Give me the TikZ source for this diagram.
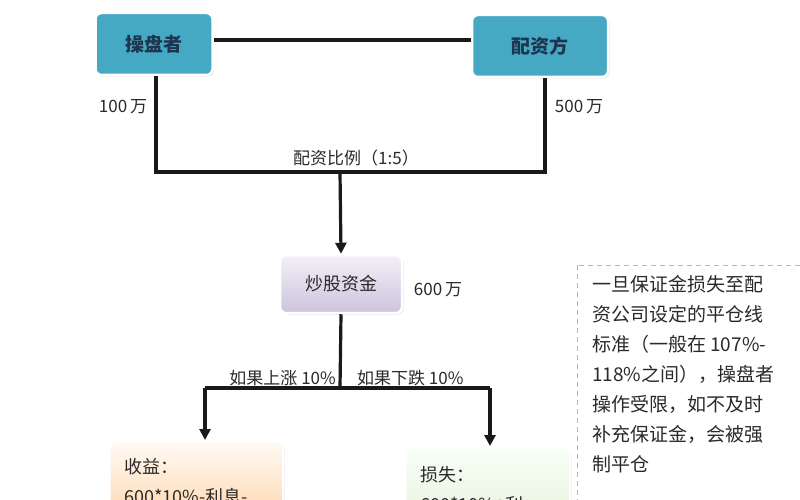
\documentclass[tikz,border=0pt]{standalone}
\usepackage{fontspec}
\setmainfont{Liberation Sans}
\newfontfamily\cjk{Noto Sans CJK SC}
\usetikzlibrary{arrows.meta,shadows,positioning}
\definecolor{teal1}{HTML}{45A9C4}
\definecolor{navy1}{HTML}{1E3550}
\definecolor{txt}{HTML}{2A2A2A}
\definecolor{dashc}{HTML}{B8BC8A}
\definecolor{lavtop}{HTML}{F4F0F8}
\definecolor{lavbot}{HTML}{CDC3DD}
\tikzset{
  card/.style={rounded corners=6pt, draw=white, line width=2.5pt,
    drop shadow={shadow xshift=1.5pt, shadow yshift=-1.5pt, opacity=0.25, fill=gray}},
  tealbox/.style={card, fill=teal1, text=navy1, font=\cjk\fontsize{19}{22}\selectfont\bfseries},
  conn/.style={line width=3.2pt, draw=black!90},
  arr/.style={conn, -{Triangle[length=11pt,width=11pt]}},
  lbl/.style={text=txt, font=\cjk\fontsize{17}{20}\selectfont, inner sep=0pt},
  note/.style={text=txt, font=\cjk\fontsize{19}{30}\selectfont, inner sep=0pt, anchor=north west, align=left},
}
\begin{document}
\begin{tikzpicture}[x=1pt,y=-1pt]
\useasboundingbox (0,0) rectangle (800,500);
\clip (0,0) rectangle (800,500);
\fill[white] (0,0) rectangle (800,500);

% top boxes
\node[tealbox, minimum width=117pt, minimum height=62pt] (cp) at (154,44) {操盘者};
\node[tealbox, minimum width=136pt, minimum height=62pt] (pz) at (540,46) {配资方};
\draw[conn] (cp.east |- 0,40) -- (pz.west |- 0,40);

% junction
\coordinate (jl) at (156,172);
\coordinate (jr) at (545,172);
\coordinate (jm) at (340,172);
\draw[conn] (cp.south -| jl) -- (jl) -- (jr) -- (pz.south -| jr);
\node[lbl] (l100) at (123,107) {100\,万};
\node[lbl] (l500) at (579,107) {500\,万};
\node[lbl] (ratio) at (356,158) {配资比例（1:5）};

% fund box
\node[card, minimum width=122pt, minimum height=58pt, top color=lavtop, bottom color=lavbot,
  text=txt, font=\cjk\fontsize{18}{20}\selectfont] (fund) at (341,284) {炒股资金};
\draw[arr] (jm) -- (fund.north);
\node[lbl] (l600) at (438,290) {600\,万};

% split
\coordinate (sm) at (340,388);
\coordinate (sl) at (205,388);
\coordinate (sr) at (490,388);
\draw[conn] (fund.south) -- (sm);
\draw[conn] (sl) -- (sr);
\node[lbl, anchor=east] (up) at (336,378) {如果上涨 10\%};
\node[lbl, anchor=west] (down) at (357,378) {如果下跌 10\%};

% bottom boxes
\node[card, minimum width=174pt, minimum height=90pt, anchor=north west,
  top color=orange!4, bottom color=orange!35!white] (gain) at (108,440) {};
\node[card, minimum width=165pt, minimum height=85pt, anchor=north west,
  top color=green!3!white, bottom color=green!25!olive!15!white] (loss) at (404,446) {};
\draw[arr] (sl) -- (gain.north -| sl);
\draw[arr] (sr) -- (loss.north -| sr);
\node[lbl, anchor=west, font=\cjk\fontsize{18}{20}\selectfont] (gt1) at (124,467) {收益：};
\node[lbl, anchor=west, font=\cjk\fontsize{18}{20}\selectfont] (gt2) at (124,497) {600*10\%-利息-};
\node[lbl, anchor=west, font=\cjk\fontsize{18}{20}\selectfont] (lt1) at (420,475) {损失：};
\node[lbl, anchor=west, font=\cjk\fontsize{18}{20}\selectfont] (lt2) at (420,505) {600*10\%+利};

% note
\draw[dashc, line width=1pt, dash pattern=on 5pt off 4pt] (577,265) rectangle (806,530);
\node[note] (nt) at (592,275) {一旦保证金损失至配\\资公司设定的平仓线\\标准（一般在 107\%-\\118\%之间），操盘者\\操作受限，如不及时\\补充保证金，会被强\\制平仓};
\end{tikzpicture}
\end{document}
